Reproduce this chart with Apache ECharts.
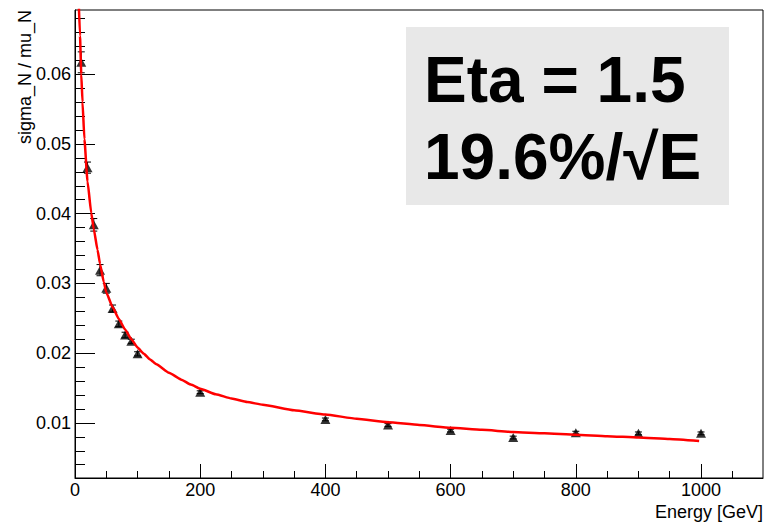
<!DOCTYPE html>
<html>
<head>
<meta charset="utf-8">
<script src="https://cdn.jsdelivr.net/npm/echarts@6.0.0/dist/echarts.min.js"></script>
<style>
  html, body { margin: 0; padding: 0; background: #fff; }
  #main { width: 770px; height: 524px; }
</style>
</head>
<body>
<div id="main"></div>
<script>
// measured points (energy in GeV, sigma_N / mu_N)
var energy = [10, 20, 30, 40, 50, 60, 70, 80, 90, 100, 200, 400, 500, 600, 700, 800, 900, 1000];
var sigmaOverMu = [0.0617, 0.0466, 0.0384, 0.0319, 0.0293, 0.0264, 0.0242, 0.0226, 0.0217, 0.0199,
  0.0144, 0.0105, 0.0097, 0.0089, 0.0079, 0.0086, 0.0085, 0.0085];
var sigmaErr = [0.0015, 0.0008, 0.0009, 0.0008, 0.0007, 0.0005, 0.0004, 0.0004, 0.0003, 0.0003,
  0.0002, 0.0002, 0.0002, 0.0002, 0.0002, 0.0002, 0.0002, 0.0002];

// fit curve
var fitEnergy = [6, 8, 10, 12, 15, 20, 26, 30, 36, 40, 46, 50, 60, 70, 80, 90, 100, 110, 120, 130,
  150, 170, 185, 200, 225, 250, 275, 300, 350, 400, 450, 500, 550, 600, 650, 700, 750, 800, 850, 900, 950, 997];
var fitValue = [0.0702, 0.0655, 0.0600, 0.0560, 0.0507, 0.0446, 0.0401, 0.0378, 0.0348, 0.0328,
  0.0302, 0.0287, 0.0266, 0.0249, 0.0234, 0.0220, 0.0208, 0.0199, 0.0191, 0.0184,
  0.0172, 0.0162, 0.0155, 0.0149, 0.0141, 0.0135, 0.0130, 0.0126, 0.0118, 0.0112, 0.0106, 0.0101,
  0.0097, 0.0093, 0.0090, 0.0087, 0.0085, 0.0083, 0.0081, 0.0079, 0.0077, 0.0074];

// axis ticks
var xMajor = [0, 200, 400, 600, 800, 1000];
var xMinor = [50, 100, 150, 250, 300, 350, 450, 500, 550, 650, 700, 750, 850, 900, 950, 1050];
var yMajor = [0.01, 0.02, 0.03, 0.04, 0.05, 0.06];
var yMinor = [0.004, 0.006, 0.008, 0.012, 0.014, 0.016, 0.018, 0.022, 0.024, 0.026, 0.028,
  0.032, 0.034, 0.036, 0.038, 0.042, 0.044, 0.046, 0.048, 0.052, 0.054, 0.056, 0.058,
  0.062, 0.064, 0.066, 0.068];

var xMin = 0, xMax = 1099;
var yMin = 0.0021, yMax = 0.0692;

var font = '"Liberation Sans", Arial, Helvetica, sans-serif';

var myChart = echarts.init(document.getElementById('main'), null, { renderer: 'svg' });

var gridBox = { left: 75, top: 10, width: 688, height: 468 };

myChart.setOption({
  animation: false,
  backgroundColor: '#fff',
  grid: [
    Object.assign({ show: true, borderColor: '#000', borderWidth: 1, backgroundColor: 'transparent' }, gridBox),
    Object.assign({ show: false }, gridBox)
  ],
  xAxis: [
    {
      type: 'value', gridIndex: 0, min: xMin, max: xMax,
      axisLine: { show: true, lineStyle: { color: '#000', width: 1 } },
      axisTick: { show: true, inside: true, length: 14, customValues: xMajor, lineStyle: { color: '#000' } },
      axisLabel: {
        customValues: xMajor, color: '#000', fontSize: 18, fontFamily: font, margin: 3,
        formatter: function (v) { return String(v); }
      },
      splitLine: { show: false }
    },
    {
      type: 'value', gridIndex: 1, min: xMin, max: xMax,
      axisLine: { show: false },
      axisTick: { show: true, inside: true, length: 7, customValues: xMinor, lineStyle: { color: '#000' } },
      axisLabel: { show: false },
      splitLine: { show: false }
    }
  ],
  yAxis: [
    {
      type: 'value', gridIndex: 0, min: yMin, max: yMax,
      axisLine: { show: true, lineStyle: { color: '#000', width: 1 } },
      axisTick: { show: true, inside: true, length: 20, customValues: yMajor, lineStyle: { color: '#000' } },
      axisLabel: {
        customValues: yMajor, color: '#000', fontSize: 18, fontFamily: font, margin: 4,
        formatter: function (v) { return v.toFixed(2); }
      },
      splitLine: { show: false }
    },
    {
      type: 'value', gridIndex: 1, min: yMin, max: yMax,
      axisLine: { show: false },
      axisTick: { show: true, inside: true, length: 10, customValues: yMinor, lineStyle: { color: '#000' } },
      axisLabel: { show: false },
      splitLine: { show: false }
    }
  ],
  series: [
    {
      // error bars
      type: 'custom',
      xAxisIndex: 0, yAxisIndex: 0,
      data: energy.map(function (e, i) {
        return [e, sigmaOverMu[i] - sigmaErr[i], sigmaOverMu[i] + sigmaErr[i]];
      }),
      renderItem: function (params, api) {
        var x = api.value(0);
        var lo = api.coord([x, api.value(1)]);
        var hi = api.coord([x, api.value(2)]);
        var w = 3.5;
        var st = { stroke: '#000', lineWidth: 1 };
        return {
          type: 'group',
          children: [
            { type: 'line', shape: { x1: lo[0], y1: lo[1], x2: hi[0], y2: hi[1] }, style: st },
            { type: 'line', shape: { x1: lo[0] - w, y1: lo[1], x2: lo[0] + w, y2: lo[1] }, style: st },
            { type: 'line', shape: { x1: hi[0] - w, y1: hi[1], x2: hi[0] + w, y2: hi[1] }, style: st }
          ]
        };
      },
      z: 2
    },
    {
      type: 'scatter',
      xAxisIndex: 0, yAxisIndex: 0,
      symbol: 'triangle',
      symbolSize: [10, 9],
      itemStyle: { color: '#000' },
      data: energy.map(function (e, i) { return [e, sigmaOverMu[i]]; }),
      z: 3
    },
    {
      type: 'line',
      xAxisIndex: 0, yAxisIndex: 0,
      showSymbol: false,
      smooth: 0.15,
      smoothMonotone: 'x',
      clip: true,
      lineStyle: { color: '#ff0000', width: 2.5 },
      data: fitEnergy.map(function (e, i) { return [e, fitValue[i]]; }),
      z: 4
    }
  ],
  graphic: [
    {
      type: 'text', x: 25, y: 10, rotation: Math.PI / 2,
      style: { text: 'sigma_N / mu_N', font: '18px ' + font, fill: '#000', align: 'right', verticalAlign: 'middle' }
    },
    {
      type: 'text', x: 763, y: 512,
      style: { text: 'Energy [GeV]', font: '18px ' + font, fill: '#000', align: 'right', verticalAlign: 'middle' }
    },
    {
      type: 'rect', shape: { x: 406, y: 27, width: 323, height: 178 },
      style: { fill: '#e8e8e8' }, z: 5
    },
    {
      type: 'text', x: 424, y: 80, z: 6,
      style: { text: 'Eta = 1.5', font: 'bold 64px ' + font, fill: '#000', align: 'left', verticalAlign: 'middle' }
    },
    {
      type: 'text', x: 424, y: 157, z: 6,
      style: { text: '19.6%/\u221AE', font: 'bold 64px ' + font, fill: '#000', align: 'left', verticalAlign: 'middle' }
    }
  ]
});
</script>
</body>
</html>
